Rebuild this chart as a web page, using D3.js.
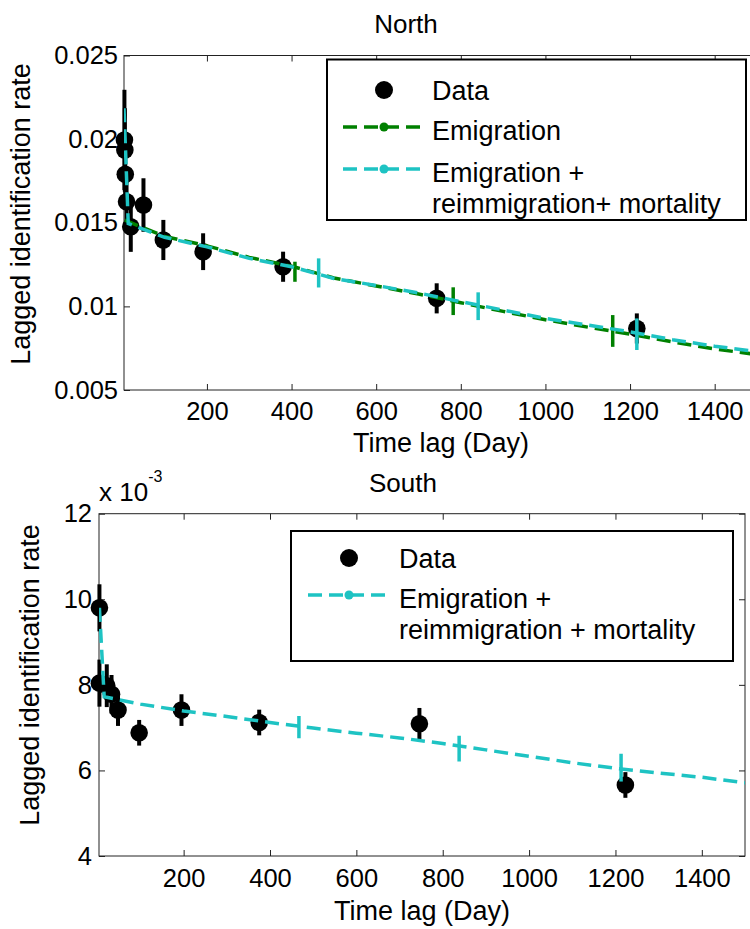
<!DOCTYPE html>
<html>
<head>
<meta charset="utf-8">
<script src="https://cdn.jsdelivr.net/npm/d3@7"></script>
<style>
  body { margin: 0; background: #fff; }
  svg text { font-family: "Liberation Sans", Arial, sans-serif; fill: #000; }
</style>
</head>
<body>
<svg id="chart" width="750" height="929"></svg>
<script>
// ---- North panel data ----
const northDays = [5, 6, 7, 10, 20, 50, 97, 191, 380, 743, 1216];
const northRate = [0.01995, 0.01935, 0.0179, 0.01626, 0.01476, 0.01606, 0.01397, 0.01327, 0.01237, 0.01048, 0.00868];
const northErr  = [0.003, 0.0025, 0.002, 0.0015, 0.0015, 0.0016, 0.0012, 0.0011, 0.0009, 0.0009, 0.0009];

const curveDays = [100, 200, 300, 400, 500, 600, 700, 800, 900, 1000, 1100, 1200, 1300, 1400, 1500];

const northEmigDays = [6].concat(curveDays);
const northEmig = [0.01515, 0.01418, 0.01362, 0.01293, 0.0124, 0.0117, 0.01122, 0.01074, 0.01022, 0.0097,
                   0.0092, 0.00876, 0.00834, 0.00788, 0.00745, 0.00712];
const northFullDays = [4, 14].concat(curveDays);
const northFull = [0.02184, 0.01496, 0.01413, 0.01356, 0.01287, 0.01237, 0.01167, 0.01125, 0.0108, 0.01028,
                   0.00978, 0.00928, 0.00888, 0.00848, 0.00801, 0.00762, 0.0073];

const northEmigBarDays = [408, 782, 1159];
const northEmigBarLo = [0.01147, 0.00948, 0.00758];
const northEmigBarHi = [0.01267, 0.01114, 0.00948];
const northFullBarDays = [464, 841, 1216];
const northFullBarLo = [0.01113, 0.00918, 0.00739];
const northFullBarHi = [0.01287, 0.01084, 0.00928];

// ---- South panel data (x 10^-3) ----
const southDays = [5, 5, 22, 33, 48, 97, 195, 375, 746, 1223];
const southRate = [9.8, 8.04, 7.98, 7.78, 7.41, 6.88, 7.41, 7.12, 7.09, 5.66];
const southErr  = [0.55, 0.55, 0.5, 0.45, 0.37, 0.3, 0.37, 0.3, 0.37, 0.3];

const southFullDays = [5, 16].concat(curveDays);
const southFull = [9.8, 7.72, 7.55, 7.39, 7.26, 7.12, 6.99, 6.87, 6.76, 6.63, 6.48, 6.33, 6.18, 6.05, 5.94, 5.84, 5.71];

const southFullBarDays = [467, 838, 1213];
const southFullBarLo = [6.75, 6.21, 5.74];
const southFullBarHi = [7.27, 6.81, 6.39];

// ---- ticks ----
const xTicks = [200, 400, 600, 800, 1000, 1200, 1400];
const northYTicks = [0.005, 0.01, 0.015, 0.02, 0.025];
const northYLabels = ['0.005', '0.01', '0.015', '0.02', '0.025'];
const southYTicks = [4, 6, 8, 10, 12];
const southYLabels = ['4', '6', '8', '10', '12'];

const GREEN = '#008000';
const CYAN = '#1ec3c3';
const TICK_FS = 25.5;   // tick labels
const LAB_FS = 27;      // axis labels & legend
const TITLE_FS = 26;

const svg = d3.select('#chart');

function zip(days, vals) {
  return days.map((d, i) => [d, vals[i]]);
}

function drawPanel(p) {
  const x = d3.scaleLinear().domain([4, 1500]).range([p.left, p.right]);
  const y = d3.scaleLinear().domain(p.yDomain).range([p.bottom, p.top]);
  const g = svg.append('g');

  const clipId = 'clip-' + p.name;
  svg.append('clipPath').attr('id', clipId)
    .append('rect')
    .attr('x', p.left).attr('y', p.top)
    .attr('width', p.right - p.left).attr('height', p.bottom - p.top);

  // axes (inward ticks, matlab box style)
  const axB = g.append('g').attr('transform', 'translate(0,' + p.bottom + ')')
    .call(d3.axisBottom(x).tickValues(xTicks).tickFormat(d3.format('d'))
      .tickSizeInner(-6).tickSizeOuter(0).tickPadding(p.xPad));
  const axT = g.append('g').attr('transform', 'translate(0,' + p.top + ')')
    .call(d3.axisTop(x).tickValues(xTicks).tickFormat('').tickSizeInner(-6).tickSizeOuter(0));
  const axL = g.append('g').attr('transform', 'translate(' + p.left + ',0)')
    .call(d3.axisLeft(y).tickValues(p.yTicks).tickFormat((d, i) => p.yLabels[i])
      .tickSizeInner(-6).tickSizeOuter(0).tickPadding(p.yPad));
  const axR = g.append('g').attr('transform', 'translate(' + p.right + ',0)')
    .call(d3.axisRight(y).tickValues(p.yTicks).tickFormat('').tickSizeInner(-6).tickSizeOuter(0));
  [axB, axT, axL, axR].forEach(a => {
    a.select('.domain').remove();
    a.selectAll('line').attr('stroke', '#222').attr('stroke-width', 1);
    a.selectAll('text').attr('font-size', TICK_FS).attr('font-family', '"Liberation Sans", Arial, sans-serif');
  });
  g.append('rect')
    .attr('x', p.left).attr('y', p.top)
    .attr('width', p.right - p.left).attr('height', p.bottom - p.top)
    .attr('fill', 'none').attr('stroke', '#222').attr('stroke-width', 1);

  // data points with error bars
  const pts = p.days.map((d, i) => ({ d: d, v: p.rate[i], e: p.err[i] }));
  g.selectAll('.eb').data(pts).enter().append('line')
    .attr('x1', d => x(d.d)).attr('x2', d => x(d.d))
    .attr('y1', d => y(d.v - d.e)).attr('y2', d => y(d.v + d.e))
    .attr('stroke', '#000').attr('stroke-width', 4);
  g.selectAll('.pt').data(pts).enter().append('circle')
    .attr('cx', d => x(d.d)).attr('cy', d => y(d.v)).attr('r', 8.8)
    .attr('fill', '#000');

  // model curves
  const line = d3.line().x(d => x(d[0])).y(d => y(d[1]));
  const cg = g.append('g').attr('clip-path', 'url(#' + clipId + ')');
  p.curves.forEach(c => {
    cg.append('path').datum(zip(c.days, c.vals))
      .attr('d', line).attr('fill', 'none')
      .attr('stroke', c.color).attr('stroke-width', 3.5)
      .attr('stroke-dasharray', '14,7');
    cg.selectAll(null).data(c.barDays).enter().append('line')
      .attr('x1', d => x(d)).attr('x2', d => x(d))
      .attr('y1', (d, i) => y(c.barLo[i])).attr('y2', (d, i) => y(c.barHi[i]))
      .attr('stroke', c.color).attr('stroke-width', 3.5);
  });

  // title and axis labels
  svg.append('text').attr('x', p.titleX).attr('y', p.titleY)
    .attr('text-anchor', 'middle').attr('font-size', TITLE_FS).text(p.title);
  svg.append('text').attr('x', p.xLabelX).attr('y', p.xLabelY)
    .attr('text-anchor', 'middle').attr('font-size', LAB_FS).text('Time lag (Day)');
  svg.append('text')
    .attr('transform', 'translate(' + p.yLabelX + ',' + p.yLabelY + ') rotate(-90)')
    .attr('text-anchor', 'middle').attr('font-size', LAB_FS).text('Lagged identification rate');

  // legend
  const L = p.legend;
  g.append('rect').attr('x', L.x).attr('y', L.y).attr('width', L.w).attr('height', L.h)
    .attr('fill', '#fff').attr('stroke', '#000').attr('stroke-width', 2);
  g.append('circle').attr('cx', L.markX).attr('cy', L.dataY).attr('r', 9).attr('fill', '#000');
  g.append('text').attr('x', L.textX).attr('y', L.dataY + 10).attr('font-size', LAB_FS).text('Data');
  L.items.forEach(it => {
    g.append('line').attr('x1', L.lineX1).attr('x2', L.lineX2).attr('y1', it.y).attr('y2', it.y)
      .attr('stroke', it.color).attr('stroke-width', 3.5).attr('stroke-dasharray', '14,7');
    g.append('circle').attr('cx', L.markX).attr('cy', it.y).attr('r', 4.5).attr('fill', it.color);
    it.lines.forEach((t, k) => {
      g.append('text').attr('x', L.textX).attr('y', it.y + 13 + k * 31)
        .attr('font-size', LAB_FS).text(t);
    });
  });
}

drawPanel({
  name: 'north', title: 'North', titleX: 406, titleY: 33,
  left: 124, right: 757, top: 55.5, bottom: 390,
  yDomain: [0.005, 0.025], yTicks: northYTicks, yLabels: northYLabels,
  xPad: 12, yPad: 6, xLabelX: 441, xLabelY: 452, yLabelX: 30, yLabelY: 214,
  days: northDays, rate: northRate, err: northErr,
  curves: [
    { color: GREEN, days: northEmigDays, vals: northEmig,
      barDays: northEmigBarDays, barLo: northEmigBarLo, barHi: northEmigBarHi },
    { color: CYAN, days: northFullDays, vals: northFull,
      barDays: northFullBarDays, barLo: northFullBarLo, barHi: northFullBarHi }
  ],
  legend: {
    x: 327, y: 59.5, w: 419, h: 160.5, markX: 384, lineX1: 343, lineX2: 423,
    textX: 432, dataY: 90,
    items: [
      { color: GREEN, y: 127, lines: ['Emigration'] },
      { color: CYAN, y: 169, lines: ['Emigration +', 'reimmigration+ mortality'] }
    ]
  }
});

drawPanel({
  name: 'south', title: 'South', titleX: 403, titleY: 492,
  left: 99, right: 745, top: 513.7, bottom: 856,
  yDomain: [4, 12], yTicks: southYTicks, yLabels: southYLabels,
  xPad: 13, yPad: 7, xLabelX: 422, xLabelY: 920, yLabelX: 39, yLabelY: 675,
  days: southDays, rate: southRate, err: southErr,
  curves: [
    { color: CYAN, days: southFullDays, vals: southFull,
      barDays: southFullBarDays, barLo: southFullBarLo, barHi: southFullBarHi }
  ],
  legend: {
    x: 291, y: 531, w: 442, h: 130, markX: 349, lineX1: 308, lineX2: 390,
    textX: 399, dataY: 558,
    items: [
      { color: CYAN, y: 595, lines: ['Emigration +', 'reimmigration + mortality'] }
    ]
  }
});

// exponent label for south panel
const expo = svg.append('text').attr('x', 99).attr('y', 501).attr('font-size', TITLE_FS);
expo.append('tspan').text('x 10');
expo.append('tspan').attr('dy', -19).attr('font-size', 16).text('-3');
</script>
</body>
</html>
